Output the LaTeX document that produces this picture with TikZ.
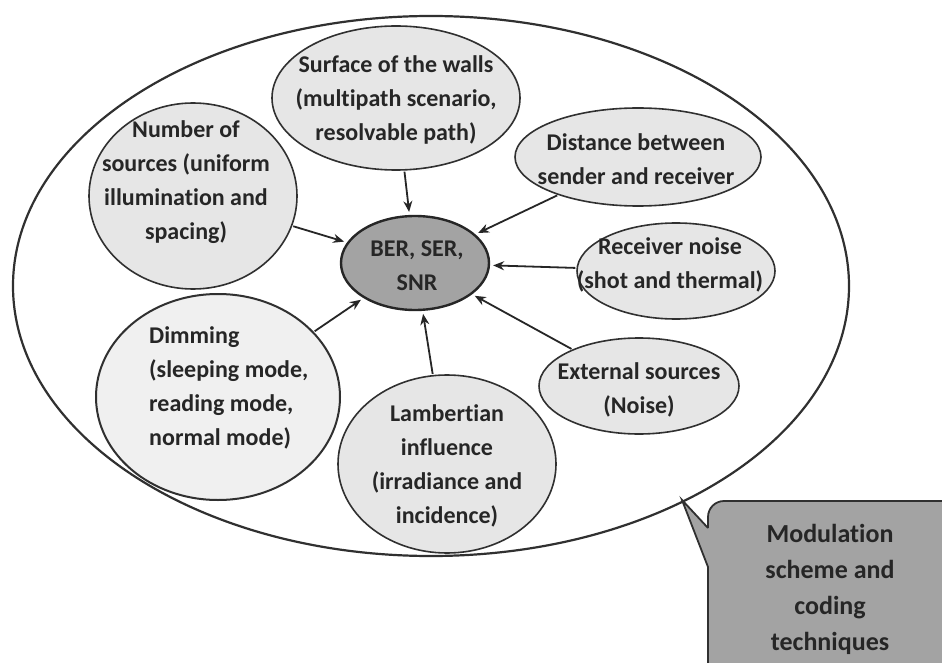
\documentclass[tikz,border=0pt]{standalone}
\usepackage{fontspec}
\setmainfont{Carlito}[Ligatures=NoCommon]
\usetikzlibrary{shapes.geometric,arrows.meta}
\definecolor{lightfill}{HTML}{E6E6E6}
\definecolor{dimfill}{HTML}{F0F0F0}
\definecolor{midfill}{HTML}{A3A3A3}
\definecolor{ink}{HTML}{262626}
\definecolor{edge}{HTML}{303030}
\tikzset{
  bubble/.style={ellipse, draw=edge, line width=1.6pt, fill=lightfill, inner sep=0pt},
  txt/.style={font=\bfseries\fontsize{24}{34}\selectfont, text=ink, align=center, inner sep=0pt},
  arr/.style={-{Stealth[length=11pt,width=9pt]}, line width=1.8pt, draw=ink, shorten >=3pt, shorten <=1pt},
}
\begin{document}
\begin{tikzpicture}[x=1pt,y=-1pt]
\useasboundingbox (0,0) rectangle (942,663);
\clip (0,0) rectangle (942,663);
\fill[white] (0,0) rectangle (942,663);
% outer ellipse
\node[ellipse, draw=edge, line width=2.2pt, minimum width=836pt, minimum height=540pt, inner sep=0pt] (outer) at (431,286) {};
% callout
\coordinate (tip) at (682,500);
\fill[midfill] (708,528) -- (tip) -- (708,567) [rounded corners=16pt] -- (708,700) -- (960,700) -- (960,501) -- (708,501) [sharp corners] -- (708,528) -- cycle;
\draw[edge, line width=1.8pt] (708,528) -- (tip) -- (708,567) [rounded corners=16pt] -- (708,700) -- (960,700) -- (960,501) -- (708,501) [sharp corners] -- (708,528);
\node[txt, font=\bfseries\fontsize{26}{36}\selectfont] (mod) at (830,589) {Modulation\\scheme and\\coding\\techniques};
% bubbles
\node[bubble, minimum width=248pt, minimum height=144pt] (surf) at (396,98) {};
\node[bubble, minimum width=208pt, minimum height=186pt] (num) at (193,196) {};
\node[bubble, minimum width=246pt, minimum height=98pt] (dist) at (638,157) {};
\node[bubble, minimum width=198pt, minimum height=96pt] (recv) at (676,271) {};
\node[bubble, minimum width=200pt, minimum height=96pt] (ext) at (639,386) {};
\node[bubble, minimum width=218pt, minimum height=178pt] (lamb) at (447,464) {};
\node[bubble, fill=dimfill, line width=2pt, minimum width=244pt, minimum height=206pt] (dim) at (218,397) {};
\node[bubble, fill=midfill, line width=2.4pt, draw=black!85, minimum width=148pt, minimum height=94pt] (ber) at (415,263) {};
% texts
\node[txt] (surft) at (396,100) {Surface of the walls\\(multipath scenario,\\resolvable path)};
\node[txt] (numt) at (186,182) {Number of\\sources (uniform\\illumination and\\spacing)};
\node[txt] (distt) at (636,159) {Distance between\\sender and receiver};
\node[txt] (recvt) at (670,265) {Receiver noise\\(shot and thermal)};
\node[txt] (extt) at (639,390) {External sources\\(Noise)};
\node[txt] (lambt) at (447,466) {Lambertian\\influence\\(irradiance and\\incidence)};
\node[txt, align=left, anchor=west] (dimt) at (149,388) {Dimming\\(sleeping mode,\\reading mode,\\normal mode)};
\node[txt] (bert) at (417,266) {BER, SER,\\SNR};
% arrows
\foreach \s in {surf,num,dist,recv,ext,lamb,dim}
  \draw[arr] (\s) -- (ber);
\end{tikzpicture}
\end{document}
